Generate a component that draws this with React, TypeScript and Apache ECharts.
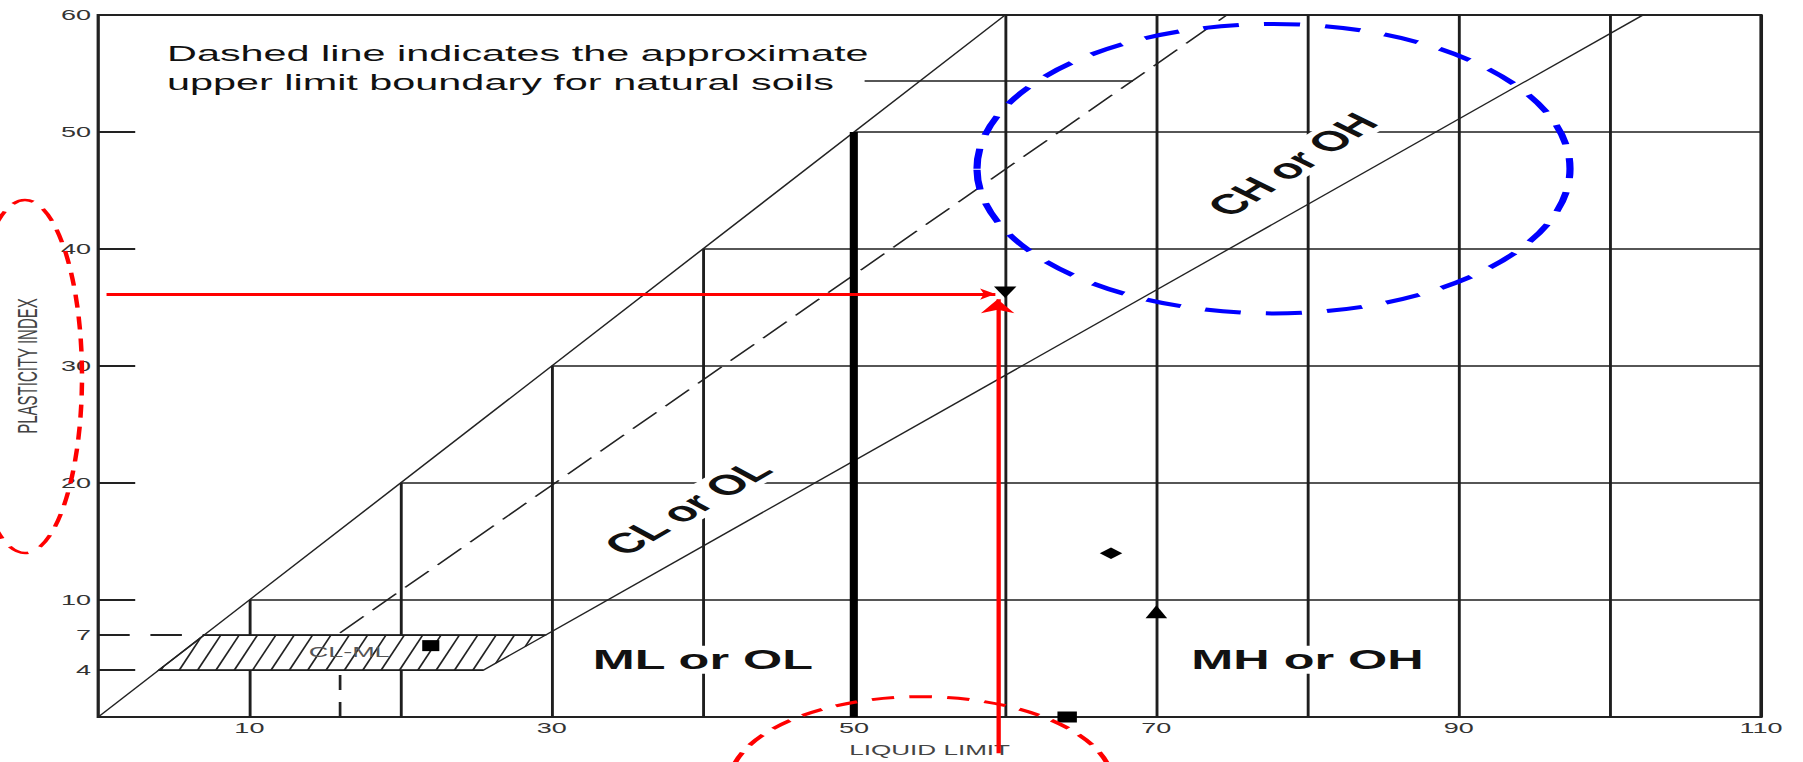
import React, { useEffect, useRef } from 'react';
import * as echarts from 'echarts';

// ---------- data ----------
const xTickLabels = [10, 30, 50, 70, 90, 110];
const yTickLabels = [4, 7, 10, 20, 30, 40, 50, 60];
const yTickMarks = [4, 10, 20, 30, 40, 50];
const gridLL = [10, 20, 30, 40, 50, 60, 70, 80, 90, 100, 110];
const gridPI = [10, 20, 30, 40, 50];

const llMax = 110;
const piMax = 60;
const aLineSlope = 0.73;
const aLineOffset = 20;
const uLineSlope = 0.9;
const uLineOffset = 8;
const uLineVerticalLL = 16;
const clmlLower = 4;
const clmlUpper = 7;
const llBoundary = 50;
const noteLeaderPI = 54.4;
const noteLeaderStartLL = 50.7;

const sampleLL = [22, 60, 67, 70, 64.1];
const samplePI = [6.1, 36.3, 14, 9, 0];
const sampleSymbols = ['rect', 'triangle', 'diamond', 'triangle', 'rect'];

const arrowHorizontal = { fromLL: 0.55, toLL: 59.35, pi: 36.15 };
const arrowVertical = { ll: 59.5, fromPI: -3.1, toPI: 35.7 };

const regionTexts = ['ML or OL', 'MH or OH', 'CL or OL', 'CH or OH'];
const regionLL = [40, 80, 39.0, 79.0];
const regionPI = [4.9, 4.9, 17.9, 47.2];
const noteText = 'Dashed line indicates the approximate\nupper limit boundary for natural soils';

// ---------- layout ----------
const PAGE_W = 1803;
const PAGE_H = 762;
const INNER_W = 1002;
const S = PAGE_W / INNER_W;
const FONT = '"Liberation Sans", Arial, Helvetica, sans-serif';

const regionAngles = [0, 0, 46, 48.5];
const sampleSizes = [[9.5, 11], [12.5, 11.5], [12.5, 11.5], [12, 13], [10.8, 11]];
const sampleRotate = [0, 180, 0, 0, 0];

const aLL = (pi: number) => pi / aLineSlope + aLineOffset;
const uLL = (pi: number) => pi / uLineSlope + uLineOffset;

export default function App() {
  const ref = useRef<HTMLDivElement>(null);

  useEffect(() => {
    if (!ref.current) return;
    const chart = echarts.init(ref.current, null, { renderer: 'svg' });

    const solid: any[] = [];
    gridLL.forEach((ll) => solid.push({ coords: [[ll, 0], [ll, Math.min(ll, piMax)]] }));
    gridPI.forEach((pi) => solid.push({ coords: [[pi, pi], [llMax, pi]] }));
    solid.push({ coords: [[noteLeaderStartLL, noteLeaderPI], [uLL(noteLeaderPI), noteLeaderPI]] });

    const thin: any[] = [
      { coords: [[0, 0], [piMax, piMax]] },
      { coords: [[aLL(clmlUpper), clmlUpper], [aLL(piMax), piMax]] },
    ];

    const dashed: any[] = [
      {
        coords: [[uLineVerticalLL, uLineSlope * (uLineVerticalLL - uLineOffset)], [uLL(piMax), piMax]],
        lineStyle: { type: [21, 8], width: 1.2, color: '#222', opacity: 1 },
      },
      {
        coords: [[uLineVerticalLL, 0], [uLineVerticalLL, clmlLower]],
        lineStyle: { type: [15, 12], width: 1.5, color: '#222', opacity: 1 },
      },
      {
        coords: [[0, clmlUpper], [clmlUpper, clmlUpper]],
        lineStyle: { type: [17.5, 11.5], width: 1.8, color: '#222', opacity: 1 },
      },
    ];

    const option: any = {
      animation: false,
      backgroundColor: '#ffffff',
      grid: {
        left: 89.5 / S,
        right: INNER_W - 1761 / S,
        top: 15,
        bottom: 39,
        show: true,
        borderColor: '#222',
        borderWidth: 1.8,
      },
      xAxis: {
        type: 'value',
        min: 0,
        max: llMax,
        axisLine: { show: false },
        axisTick: { show: false },
        splitLine: { show: false },
        axisLabel: { customValues: xTickLabels, fontSize: 15, color: '#333', margin: 3, fontFamily: FONT },
        name: 'LIQUID LIMIT',
        nameLocation: 'middle',
        nameGap: 25,
        nameTextStyle: { fontSize: 14.5, color: '#444', fontFamily: FONT },
      },
      yAxis: {
        type: 'value',
        min: 0,
        max: piMax,
        axisLine: { show: false },
        splitLine: { show: false },
        axisTick: {
          show: true,
          inside: true,
          length: 37 / S,
          customValues: yTickMarks,
          lineStyle: { color: '#222', width: 2 },
        },
        axisLabel: { customValues: yTickLabels, fontSize: 15, color: '#333', margin: 4, fontFamily: FONT },
        name: 'PLASTICITY INDEX',
        nameLocation: 'middle',
        nameGap: 26,
        nameRotate: 90,
        nameTextStyle: { fontSize: 15, color: '#444', fontFamily: FONT },
      },
      series: [
        {
          type: 'lines',
          coordinateSystem: 'cartesian2d',
          silent: true,
          z: 1,
          lineStyle: { color: '#1e1e1e', width: 1.6, opacity: 1 },
          data: solid,
        },
        {
          type: 'custom',
          coordinateSystem: 'cartesian2d',
          silent: true,
          z: 3,
          data: [[0, 0]],
          renderItem: (_params: any, api: any) => {
            const bl = api.coord([clmlLower, clmlLower]);
            const br = api.coord([aLL(clmlLower), clmlLower]);
            const tr = api.coord([aLL(clmlUpper), clmlUpper]);
            const tl = api.coord([clmlUpper, clmlUpper]);
            const yb = bl[1];
            const yt = tl[1];
            const lb = bl[0], lt = tl[0], rb = br[0], rt = tr[0];
            const h = 12.9;
            const step = 10.2;
            const children: any[] = [
              {
                type: 'polygon',
                shape: { points: [bl, br, tr, tl] },
                style: { fill: '#fff', stroke: '#222', lineWidth: 1.1 },
              },
            ];
            for (let x0 = lb - 60; x0 <= rt + 60; x0 += step) {
              let t0 = 0;
              let t1 = 1;
              const a = (lt - lb) - h;
              if (a > 0) t1 = Math.min(t1, (x0 - lb) / a);
              else if (a < 0) t0 = Math.max(t0, (x0 - lb) / a);
              else if (x0 < lb) continue;
              const b = (rt - rb) - h;
              if (b > 0) t0 = Math.max(t0, (x0 - rb) / b);
              else if (b < 0) t1 = Math.min(t1, (x0 - rb) / b);
              else if (x0 > rb) continue;
              if (t1 - t0 <= 0.02) continue;
              children.push({
                type: 'line',
                shape: {
                  x1: x0 + h * t0,
                  y1: yb + (yt - yb) * t0,
                  x2: x0 + h * t1,
                  y2: yb + (yt - yb) * t1,
                },
                style: { stroke: '#222', lineWidth: 1.05 },
              });
            }
            children.push({
              type: 'line',
              shape: { x1: bl[0], y1: yb, x2: br[0], y2: yb },
              style: { stroke: '#1e1e1e', lineWidth: 1.8 },
            });
            children.push({
              type: 'line',
              shape: { x1: tl[0], y1: yt, x2: tr[0], y2: yt },
              style: { stroke: '#1e1e1e', lineWidth: 1.8 },
            });
            return { type: 'group', children };
          },
        },
        {
          type: 'lines',
          coordinateSystem: 'cartesian2d',
          silent: true,
          z: 4,
          lineStyle: { color: '#222', width: 1.1, opacity: 1 },
          data: thin,
        },
        {
          type: 'lines',
          coordinateSystem: 'cartesian2d',
          silent: true,
          z: 4,
          data: dashed,
        },
        {
          type: 'lines',
          coordinateSystem: 'cartesian2d',
          silent: true,
          z: 5,
          lineStyle: { color: '#000', width: 4.5, opacity: 1 },
          data: [{ coords: [[llBoundary, 0], [llBoundary, llBoundary]] }],
        },
        {
          type: 'scatter',
          silent: true,
          z: 6,
          clip: false,
          itemStyle: { color: '#000', opacity: 1 },
          data: sampleLL.map((ll, i) => ({
            value: [ll, samplePI[i]],
            symbol: sampleSymbols[i],
            symbolSize: sampleSizes[i],
            symbolRotate: sampleRotate[i],
          })),
        },
        {
          type: 'lines',
          coordinateSystem: 'cartesian2d',
          silent: true,
          clip: false,
          z: 7,
          symbol: ['none', 'arrow'],
          symbolSize: [16, 8.5],
          lineStyle: { color: '#ff0000', width: 2.8, opacity: 1 },
          data: [{ coords: [[arrowHorizontal.fromLL, arrowHorizontal.pi], [arrowHorizontal.toLL, arrowHorizontal.pi]] }],
        },
        {
          type: 'lines',
          coordinateSystem: 'cartesian2d',
          silent: true,
          clip: false,
          z: 7,
          symbol: ['none', 'arrow'],
          symbolSize: [8.5, 14],
          lineStyle: { color: '#ff0000', width: 2.4, opacity: 1 },
          data: [{ coords: [[arrowVertical.ll, arrowVertical.fromPI], [arrowVertical.ll, arrowVertical.toPI]] }],
        },
      ],
    };

    chart.setOption(option);

    const px = (ll: number, pi: number) => chart.convertToPixel({ gridIndex: 0 }, [ll, pi]) as number[];

    const elements: any[] = [];
    regionTexts.forEach((t, i) => {
      const p = px(regionLL[i], regionPI[i]);
      elements.push({
        type: 'text',
        x: p[0],
        y: p[1],
        rotation: (regionAngles[i] * Math.PI) / 180,
        z: 100,
        silent: true,
        style: {
          text: t,
          fontSize: 28,
          fontWeight: 'bold',
          fontFamily: FONT,
          fill: '#111',
          align: 'center',
          verticalAlign: 'middle',
          textAlign: 'center',
          textVerticalAlign: 'middle',
          backgroundColor: '#fff',
          padding: [0, 3],
        },
      });
    });
    const cl = px(16.6, 5.55);
    elements.push({
      type: 'text',
      x: cl[0],
      y: cl[1],
      z: 100,
      silent: true,
      style: {
        text: 'CL-ML',
        fontSize: 15,
        fontFamily: FONT,
        fill: '#555',
        align: 'center',
        verticalAlign: 'middle',
        textAlign: 'center',
        textVerticalAlign: 'middle',
      },
    });
    elements.push({
      type: 'text',
      x: 167 / S,
      y: 38.5,
      z: 100,
      silent: true,
      style: {
        text: noteText,
        fontSize: 23,
        lineHeight: 29,
        fontFamily: FONT,
        fill: '#111',
        align: 'left',
        verticalAlign: 'top',
        textAlign: 'left',
        textVerticalAlign: 'top',
      },
    });
    // hand-drawn highlight ellipses
    elements.push({
      type: 'ellipse',
      z: 110,
      silent: true,
      shape: { cx: 1273.5 / S, cy: 168.7, rx: 296.5 / S, ry: 144.7 },
      style: { fill: 'none', stroke: '#0000ff', lineWidth: 4, lineDash: [20, 14] },
    });
    elements.push({
      type: 'ellipse',
      z: 110,
      silent: true,
      shape: { cx: 25 / S, cy: 376.5, rx: 57 / S, ry: 176.5 },
      style: { fill: 'none', stroke: '#ff0000', lineWidth: 2.5, lineDash: [13, 9] },
    });
    elements.push({
      type: 'ellipse',
      z: 110,
      silent: true,
      shape: { cx: 921 / S, cy: 785, rx: 192 / S, ry: 88.3 },
      style: { fill: 'none', stroke: '#ff0000', lineWidth: 3, lineDash: [12.5, 8.5] },
    });

    chart.setOption({ graphic: { elements } });

    return () => chart.dispose();
  }, []);

  return (
    <div
      style={{
        position: 'fixed',
        left: 0,
        top: 0,
        width: PAGE_W,
        height: PAGE_H,
        overflow: 'hidden',
        background: '#fff',
      }}
    >
      <div
        ref={ref}
        style={{
          width: INNER_W,
          height: PAGE_H,
          transform: `scaleX(${S})`,
          transformOrigin: '0 0',
        }}
      />
    </div>
  );
}
